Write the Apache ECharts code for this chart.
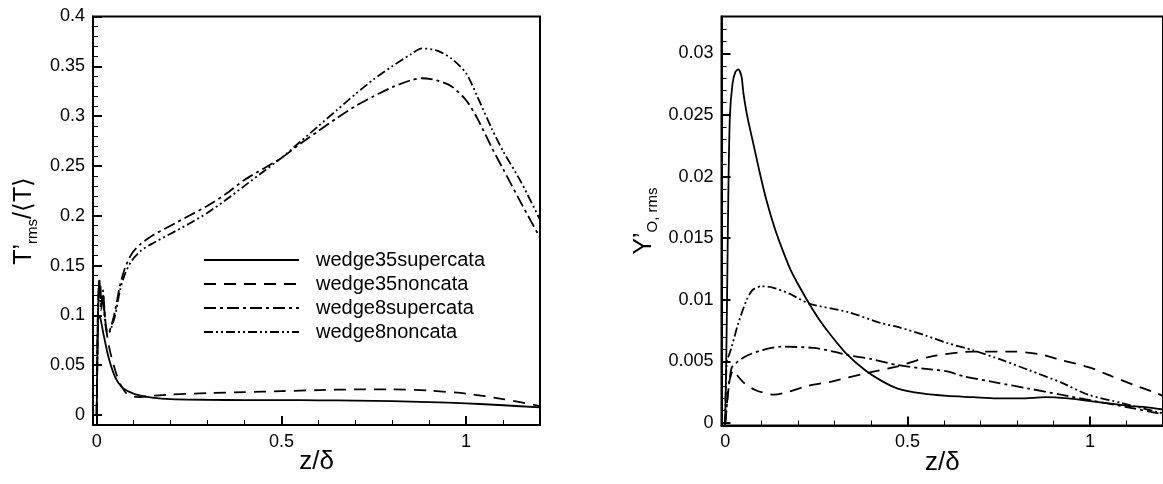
<!DOCTYPE html>
<html>
<head>
<meta charset="utf-8">
<script src="https://cdn.jsdelivr.net/npm/echarts@6/dist/echarts.min.js"></script>
<style>
html,body{margin:0;padding:0;background:#fff;}
#c{width:1163px;height:484px;}
</style>
</head>
<body>
<div id="c"></div>
<script>
// ---------- series names ----------
const seriesNames = ['wedge35supercata', 'wedge35noncata', 'wedge8supercata', 'wedge8noncata'];

// ---------- tick values ----------
const xMajorTicks = [0, 0.5, 1];
const xMinorTicks = [0.1, 0.2, 0.3, 0.4, 0.6, 0.7, 0.8, 0.9, 1.1];
const leftYMajorTicks = [0, 0.05, 0.1, 0.15, 0.2, 0.25, 0.3, 0.35, 0.4];
const leftYMinorTicks = [0.01, 0.02, 0.03, 0.04, 0.06, 0.07, 0.08, 0.09, 0.11, 0.12, 0.13, 0.14,
  0.16, 0.17, 0.18, 0.19, 0.21, 0.22, 0.23, 0.24, 0.26, 0.27, 0.28, 0.29, 0.31, 0.32, 0.33, 0.34,
  0.36, 0.37, 0.38, 0.39];
const rightYMajorTicks = [0, 0.005, 0.01, 0.015, 0.02, 0.025, 0.03];
const rightYMinorTicks = [0.001, 0.002, 0.003, 0.004, 0.006, 0.007, 0.008, 0.009, 0.011, 0.012, 0.013, 0.014,
  0.016, 0.017, 0.018, 0.019, 0.021, 0.022, 0.023, 0.024, 0.026, 0.027, 0.028, 0.029, 0.031, 0.032];

// ---------- left panel: T'rms/<T> ----------
const L_w35s_x = [0, 0.002, 0.005, 0.01, 0.018, 0.032, 0.05, 0.068, 0.09, 0.113, 0.15, 0.2, 0.3, 0.4, 0.5, 0.6, 0.7, 0.8, 0.9, 1.0, 1.1, 1.2];
const L_w35s_y = [0, 0.06, 0.1, 0.097, 0.082, 0.058, 0.038, 0.028, 0.023, 0.02, 0.0175, 0.016, 0.0153, 0.015, 0.015, 0.0148, 0.0145, 0.014, 0.013, 0.0118, 0.0098, 0.0077];

const L_w35n_x = [0, 0.003, 0.006, 0.009, 0.013, 0.017, 0.022, 0.03, 0.04, 0.05, 0.059, 0.07, 0.08, 0.095, 0.113, 0.14, 0.2, 0.3, 0.4, 0.5, 0.6, 0.7, 0.8, 0.9, 1.0, 1.1, 1.2];
const L_w35n_y = [0, 0.09, 0.13, 0.135, 0.11, 0.12, 0.1, 0.075, 0.058, 0.045, 0.035, 0.027, 0.022, 0.019, 0.018, 0.019, 0.0205, 0.022, 0.023, 0.024, 0.025, 0.0257, 0.0257, 0.0245, 0.0215, 0.016, 0.009];

const L_w8s_x = [0, 0.003, 0.007, 0.012, 0.017, 0.022, 0.027, 0.032, 0.04, 0.05, 0.063, 0.077, 0.095, 0.12, 0.15, 0.2, 0.25, 0.3, 0.35, 0.4, 0.45, 0.5, 0.55, 0.6, 0.65, 0.7, 0.75, 0.8, 0.85, 0.88, 0.92, 0.96, 1.0, 1.03, 1.07, 1.1, 1.15, 1.2];
const L_w8s_y = [0, 0.1, 0.137, 0.11, 0.125, 0.1, 0.085, 0.083, 0.09, 0.105, 0.13, 0.148, 0.162, 0.172, 0.18, 0.19, 0.2, 0.21, 0.222, 0.236, 0.247, 0.258, 0.272, 0.285, 0.298, 0.31, 0.32, 0.329, 0.336, 0.338, 0.336, 0.33, 0.316, 0.298, 0.268, 0.247, 0.212, 0.178];

const L_w8n_x = [0, 0.003, 0.007, 0.012, 0.017, 0.022, 0.027, 0.032, 0.04, 0.05, 0.063, 0.077, 0.095, 0.12, 0.15, 0.2, 0.25, 0.3, 0.35, 0.4, 0.45, 0.5, 0.55, 0.6, 0.65, 0.7, 0.75, 0.8, 0.85, 0.88, 0.92, 0.96, 1.0, 1.03, 1.07, 1.1, 1.15, 1.2];
const L_w8n_y = [0, 0.095, 0.13, 0.105, 0.12, 0.095, 0.083, 0.082, 0.088, 0.1, 0.125, 0.142, 0.155, 0.165, 0.172, 0.182, 0.192, 0.203, 0.216, 0.23, 0.244, 0.258, 0.274, 0.29, 0.306, 0.322, 0.337, 0.35, 0.362, 0.368, 0.366, 0.358, 0.343, 0.32, 0.287, 0.265, 0.233, 0.196];

// ---------- right panel: Y'O,rms ----------
const R_w35s_x = [0, 0.003, 0.006, 0.009, 0.013, 0.02, 0.028, 0.036, 0.045, 0.05, 0.06, 0.077, 0.095, 0.113, 0.135, 0.158, 0.18, 0.203, 0.23, 0.26, 0.293, 0.33, 0.383, 0.43, 0.473, 0.54, 0.608, 0.68, 0.743, 0.81, 0.878, 0.94, 0.995, 1.05, 1.1, 1.15, 1.2];
const R_w35s_y = [0, 0.005, 0.012, 0.0192, 0.0249, 0.0275, 0.0285, 0.0287, 0.0281, 0.0268, 0.025, 0.0227, 0.0203, 0.0181, 0.0159, 0.014, 0.0124, 0.0111, 0.0097, 0.0083, 0.007, 0.0057, 0.0043, 0.0034, 0.0028, 0.0024, 0.0022, 0.0021, 0.002, 0.002, 0.0021, 0.002, 0.0018, 0.0016, 0.0014, 0.0013, 0.0011];

const R_w35n_x = [0, 0.004, 0.009, 0.015, 0.022, 0.035, 0.05, 0.063, 0.081, 0.1, 0.135, 0.17, 0.225, 0.297, 0.38, 0.473, 0.563, 0.68, 0.788, 0.86, 0.923, 1.0, 1.059, 1.12, 1.184, 1.2];
const R_w35n_y = [0, 0.0012, 0.003, 0.0038, 0.0043, 0.0038, 0.0033, 0.003, 0.0027, 0.0025, 0.0023, 0.0025, 0.003, 0.0034, 0.004, 0.0046, 0.0054, 0.0058, 0.0058, 0.0056, 0.0051, 0.0045, 0.0038, 0.0031, 0.0024, 0.0022];

const R_w8s_x = [0, 0.004, 0.009, 0.018, 0.035, 0.062, 0.099, 0.153, 0.243, 0.297, 0.338, 0.4, 0.473, 0.55, 0.608, 0.653, 0.74, 0.832, 0.92, 1.01, 1.1, 1.184, 1.2];
const R_w8s_y = [0, 0.0012, 0.0027, 0.0045, 0.005, 0.0055, 0.0059, 0.0062, 0.0061, 0.0058, 0.0055, 0.0052, 0.0047, 0.0044, 0.0042, 0.0038, 0.0033, 0.0028, 0.0023, 0.0018, 0.0013, 0.0008, 0.0007];

const R_w8n_x = [0, 0.002, 0.005, 0.009, 0.018, 0.036, 0.059, 0.075, 0.099, 0.13, 0.176, 0.23, 0.338, 0.428, 0.473, 0.55, 0.608, 0.68, 0.76, 0.832, 0.92, 0.995, 1.09, 1.184, 1.2];
const R_w8n_y = [0, 0.003, 0.0052, 0.0054, 0.0062, 0.0081, 0.01, 0.0108, 0.0111, 0.011, 0.0105, 0.0097, 0.009, 0.0081, 0.0078, 0.0071, 0.0065, 0.0059, 0.0051, 0.0043, 0.0033, 0.0023, 0.0016, 0.0009, 0.0008];

// ---------- build ----------
const FONT = 'Liberation Sans, Arial, Helvetica, sans-serif';
const lineTypes = ['solid', [12, 8], [12, 4, 3, 4], [9, 3, 2, 3, 2, 3]];
const pairs = (xs, ys) => xs.map((x, i) => [x, ys[i]]);
const fmt = v => String(+(+v).toFixed(4));

const leftData = [pairs(L_w35s_x, L_w35s_y), pairs(L_w35n_x, L_w35n_y), pairs(L_w8s_x, L_w8s_y), pairs(L_w8n_x, L_w8n_y)];
const rightData = [pairs(R_w35s_x, R_w35s_y), pairs(R_w35n_x, R_w35n_y), pairs(R_w8s_x, R_w8s_y), pairs(R_w8n_x, R_w8n_y)];

function majorAxis(gridIndex, position, min, max, ticks, extra) {
  return Object.assign({
    type: 'value', gridIndex, position, min, max,
    axisLine: { show: true, onZero: false, lineStyle: { color: '#000', width: 2 } },
    axisTick: { show: true, inside: true, length: 9, customValues: ticks, lineStyle: { color: '#000', width: 2 } },
    axisLabel: { show: true, customValues: ticks, formatter: fmt, color: '#000', fontSize: 18, fontFamily: FONT, margin: 8 },
    splitLine: { show: false },
    minorTick: { show: false }
  }, extra || {});
}
function minorAxis(gridIndex, position, min, max, ticks) {
  return {
    type: 'value', gridIndex, position, offset: 0, min, max,
    axisLine: { show: false, onZero: false },
    axisTick: { show: true, inside: true, length: 5, customValues: ticks, lineStyle: { color: '#000', width: 1 } },
    axisLabel: { show: false },
    splitLine: { show: false }
  };
}

const xName = { name: 'z/δ', nameLocation: 'middle', nameGap: 24, nameMoveOverlap: false,
  nameTextStyle: { color: '#000', fontSize: 26, fontFamily: FONT } };
const yRich = {
  a: { fontSize: 25, lineHeight: 32, fontFamily: FONT, color: '#000' },
  s: { fontSize: 15, lineHeight: 14, verticalAlign: 'bottom', fontFamily: FONT, color: '#000' }
};

const option = {
  animation: false,
  backgroundColor: '#fff',
  grid: [
    { left: 93, top: 16.5, width: 447, height: 408.5, show: true, borderColor: '#000', borderWidth: 2, backgroundColor: 'transparent' },
    { left: 721.5, top: 16.5, width: 447.5, height: 409, show: true, borderColor: '#000', borderWidth: 2, backgroundColor: 'transparent' }
  ],
  xAxis: [
    majorAxis(0, 'bottom', -0.01, 1.2, xMajorTicks, xName),
    minorAxis(0, 'bottom', -0.01, 1.2, xMinorTicks),
    majorAxis(1, 'bottom', -0.01, 1.2, xMajorTicks, xName),
    minorAxis(1, 'bottom', -0.01, 1.2, xMinorTicks)
  ],
  yAxis: [
    majorAxis(0, 'left', -0.01, 0.4, leftYMajorTicks, {
      name: '{a|T’}{s|rms}{a|/⟨T⟩}', nameLocation: 'middle', nameRotate: 90, nameGap: 53, nameMoveOverlap: false,
      nameTextStyle: { color: '#000', fontFamily: FONT, rich: yRich }
    }),
    minorAxis(0, 'left', -0.01, 0.4, leftYMinorTicks),
    majorAxis(1, 'left', -0.0002, 0.033, rightYMajorTicks, {
      name: '{a|Y’}{s|O, rms}', nameLocation: 'middle', nameRotate: 90, nameGap: 61, nameMoveOverlap: false,
      nameTextStyle: { color: '#000', fontFamily: FONT, rich: yRich }
    }),
    minorAxis(1, 'left', -0.0002, 0.033, rightYMinorTicks)
  ],
  legend: {
    data: seriesNames,
    orient: 'vertical',
    left: 203, top: 250,
    padding: 0,
    itemWidth: 95, itemHeight: 20, itemGap: 4,
    selectedMode: false,
    itemStyle: { color: 'rgba(0,0,0,0)', borderColor: 'rgba(0,0,0,0)', borderWidth: 0, opacity: 0 },
    textStyle: { fontSize: 20, fontFamily: FONT, color: '#000', padding: [0, 0, 0, 12] }
  },
  series: []
};

function addSeries(xi, yi, dataSet) {
  seriesNames.forEach((name, i) => {
    option.series.push({
      name, type: 'line', xAxisIndex: xi, yAxisIndex: yi, data: dataSet[i],
      symbol: 'circle', symbolSize: 0, showSymbol: false, smooth: 0.25, clip: true,
      lineStyle: { color: '#000', width: 1.8, type: lineTypes[i] },
      itemStyle: { color: 'rgba(0,0,0,0)', borderWidth: 0 }
    });
  });
}
addSeries(0, 0, leftData);
addSeries(2, 2, rightData);

const chart = echarts.init(document.getElementById('c'), null, { renderer: 'canvas' });
chart.setOption(option);
</script>
</body>
</html>
